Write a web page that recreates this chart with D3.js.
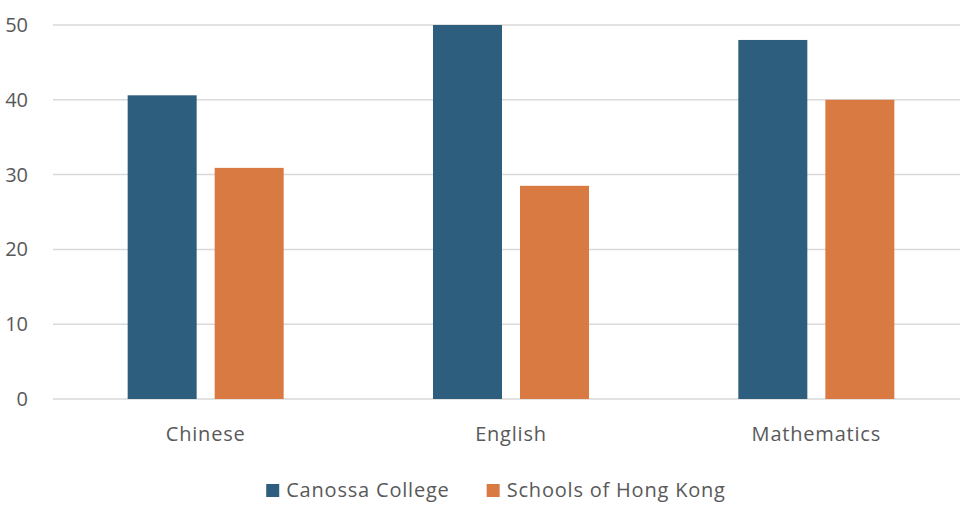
<!DOCTYPE html>
<html>
<head>
<meta charset="utf-8">
<script src="https://cdn.jsdelivr.net/npm/d3@7.9.0/dist/d3.min.js"></script>
<style>
  html, body { margin: 0; padding: 0; background: #fff; }
  svg { display: block; font-family: 'Open Sans', 'Noto Sans', sans-serif; }
  .tick-label, .cat-label, .legend-label { fill: #595959; font-size: 20px; }
</style>
</head>
<body>
<svg id="chart" width="960" height="519"></svg>
<script>
const subjects = ['Chinese', 'English', 'Mathematics'];
const seriesNames = ['Canossa College', 'Schools of Hong Kong'];
const canossaValues = [40.6, 50, 48];
const hongKongValues = [30.9, 28.5, 40];
const yTicks = [0, 10, 20, 30, 40, 50];
const seriesColors = ['#2e5e7e', '#d97a42'];

const width = 960;
const height = 519;
const svg = d3.select('#chart');

const x = d3.scaleBand().domain(subjects).range([53, 969]).paddingInner(0).paddingOuter(0);
const xInner = d3.scaleBand().domain(seriesNames).range([0, x.bandwidth()]).paddingInner(0.207).paddingOuter(0.858);
const y = d3.scaleLinear().domain([0, 50]).range([399, 25]);

// gridlines
svg.append('g')
  .selectAll('line')
  .data(yTicks)
  .join('line')
  .attr('x1', 53)
  .attr('x2', width)
  .attr('y1', (d) => y(d))
  .attr('y2', (d) => y(d))
  .attr('stroke', '#d9d9d9')
  .attr('stroke-width', 1.5);

// y tick labels
svg.append('g')
  .selectAll('text')
  .data(yTicks)
  .join('text')
  .attr('class', 'tick-label')
  .attr('x', 28)
  .attr('y', (d) => y(d) + 7)
  .attr('text-anchor', 'end')
  .text((d) => d);

// bars
const rows = subjects.map((subject, i) => ({
  subject,
  values: [canossaValues[i], hongKongValues[i]],
}));

const groups = svg.append('g')
  .selectAll('g')
  .data(rows)
  .join('g')
  .attr('transform', (d) => `translate(${x(d.subject)},0)`);

groups.selectAll('rect')
  .data((d) => d.values.map((value, j) => ({ series: seriesNames[j], value, j })))
  .join('rect')
  .attr('x', (d) => xInner(d.series))
  .attr('width', xInner.bandwidth())
  .attr('y', (d) => y(d.value))
  .attr('height', (d) => y(0) - y(d.value))
  .attr('fill', (d) => seriesColors[d.j]);

// category labels
svg.append('g')
  .selectAll('text')
  .data(subjects)
  .join('text')
  .attr('class', 'cat-label')
  .attr('x', (d) => x(d) + x.bandwidth() / 2)
  .attr('y', 441)
  .attr('text-anchor', 'middle')
  .attr('letter-spacing', 0.8)
  .text((d) => d);

// legend
const legend = svg.append('g');
const items = legend.selectAll('g')
  .data(seriesNames)
  .join('g');

items.append('rect')
  .attr('width', 13)
  .attr('height', 13)
  .attr('y', 484)
  .attr('fill', (d, i) => seriesColors[i]);

items.append('text')
  .attr('class', 'legend-label')
  .attr('x', 20)
  .attr('y', 497)
  .attr('letter-spacing', 0.8)
  .text((d) => d);

const itemGap = 37;
let offset = 0;
const itemWidths = [];
items.each(function () {
  itemWidths.push(this.getBBox().width);
});
const total = d3.sum(itemWidths) + itemGap * (itemWidths.length - 1);
offset = 496 - total / 2;
items.attr('transform', (d, i) => {
  const tx = offset;
  offset += itemWidths[i] + itemGap;
  return `translate(${tx},0)`;
});
</script>
</body>
</html>
